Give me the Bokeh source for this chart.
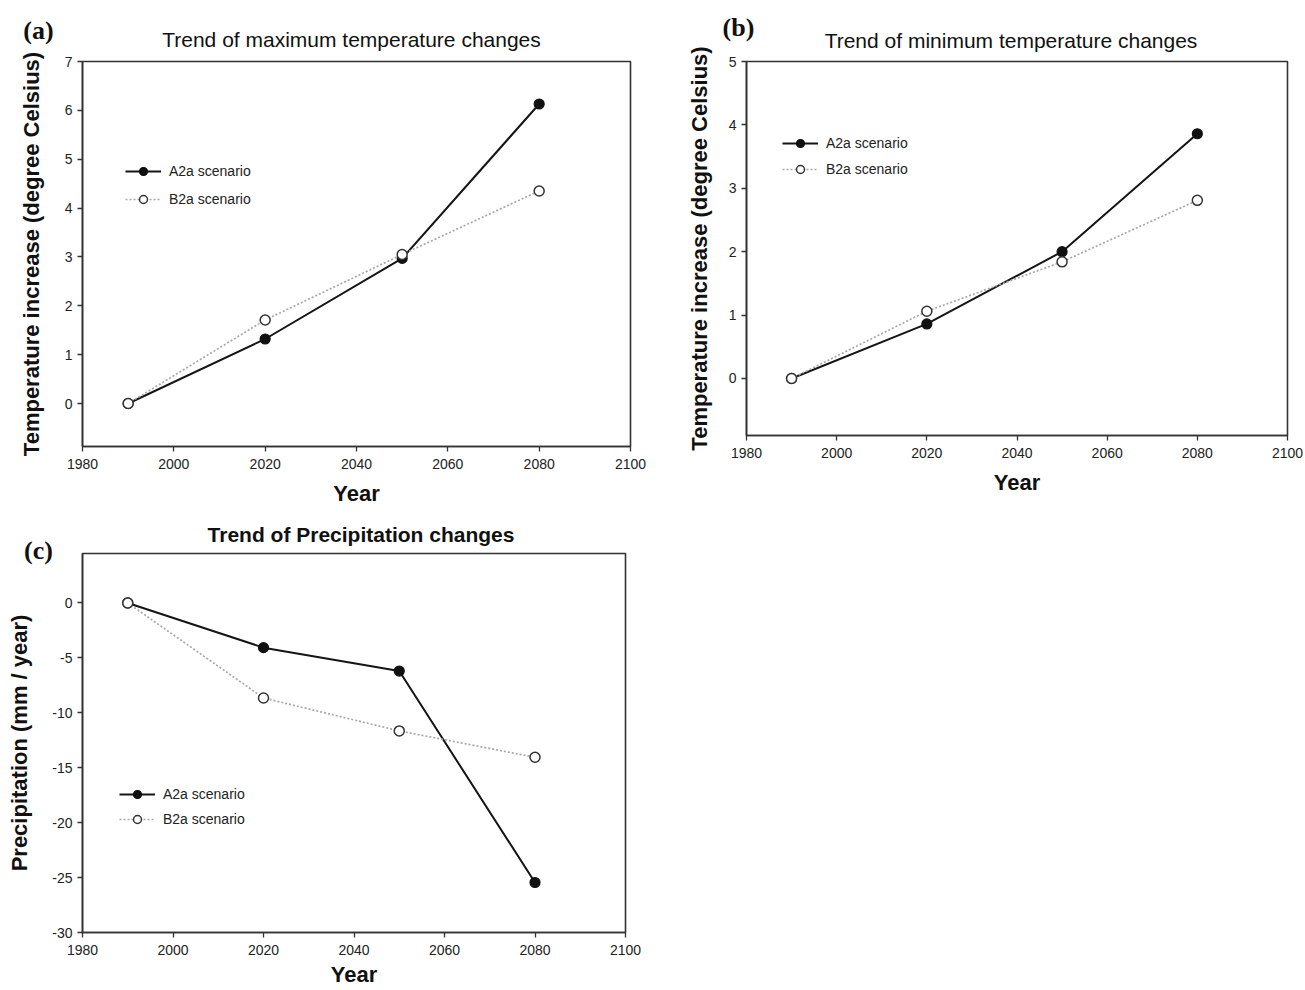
from bokeh.plotting import figure
from bokeh.layouts import column, row
from bokeh.models import (FixedTicker, Range1d, Legend, LegendItem, Label,
                          NumeralTickFormatter)
from bokeh.embed import file_html
from bokeh.resources import INLINE

# ---------------- data ----------------
years = [1990, 2020, 2050, 2080]
x_ticks = [1980, 2000, 2020, 2040, 2060, 2080, 2100]
series_names = ["A2a scenario", "B2a scenario"]

tmax_a2a = [0.0, 1.32, 2.97, 6.13]
tmax_b2a = [0.0, 1.71, 3.05, 4.35]
tmax_ticks = [0, 1, 2, 3, 4, 5, 6, 7]

tmin_a2a = [0.0, 0.86, 2.00, 3.86]
tmin_b2a = [0.0, 1.06, 1.84, 2.81]
tmin_ticks = [0, 1, 2, 3, 4, 5]

prec_a2a = [0.0, -4.07, -6.2, -25.45]
prec_b2a = [0.0, -8.65, -11.65, -14.05]
prec_ticks = [-30, -25, -20, -15, -10, -5, 0]

SANS = "Liberation Sans"
SERIF = "Liberation Serif"


def make_panel(cfg, a_vals, b_vals, y_ticks):
    p = figure(width=cfg["width"], height=cfg["height"], output_backend="svg",
               toolbar_location=None, title=None,
               x_range=Range1d(1980, 2100),
               y_range=Range1d(cfg["y0"], cfg["y1"]),
               min_border_left=cfg["bl"], min_border_right=cfg["br"],
               min_border_top=cfg["bt"], min_border_bottom=cfg["bb"])
    p.background_fill_color = "white"
    p.border_fill_color = "white"
    p.xgrid.visible = False
    p.ygrid.visible = False
    p.outline_line_color = "#333333"
    p.outline_line_width = 1.6

    p.xaxis.ticker = FixedTicker(ticks=x_ticks)
    p.yaxis.ticker = FixedTicker(ticks=y_ticks)
    p.yaxis.formatter = NumeralTickFormatter(format="0")
    p.xaxis.axis_label = "Year"
    p.yaxis.axis_label = cfg["ylabel"]
    for ax in (p.xaxis[0], p.yaxis[0]):
        ax.axis_line_color = "#333333"
        ax.axis_line_width = 1.6
        ax.major_tick_line_color = "#333333"
        ax.major_tick_line_width = 1.3
        ax.major_tick_in = 0
        ax.major_tick_out = 5
        ax.minor_tick_line_color = None
        ax.major_label_text_font = SANS
        ax.major_label_text_font_size = "14px"
        ax.major_label_text_color = "#222222"
        ax.axis_label_text_font = SANS
        ax.axis_label_text_font_size = "22px"
        ax.axis_label_text_font_style = "bold"
        ax.axis_label_text_color = "#111111"
    p.xaxis.major_label_standoff = 7
    p.xaxis.axis_label_standoff = cfg["xas"]
    p.yaxis.major_label_standoff = 5
    p.yaxis.axis_label_standoff = cfg["yas"]

    la = p.line(years, a_vals, line_color="#151515", line_width=2.0)
    sa = p.scatter(years, a_vals, marker="circle", size=10,
                   fill_color="#111111", line_color="#111111", line_width=1.2)
    lb = p.line(years, b_vals, line_color="#a8a8a8", line_width=1.7, line_dash="2 2")
    sb = p.scatter(years, b_vals, marker="circle", size=10,
                   fill_color="white", line_color="#333333", line_width=1.5)

    legend = Legend(items=[LegendItem(label=series_names[0], renderers=[la, sa]),
                           LegendItem(label=series_names[1], renderers=[lb, sb])],
                    location=cfg["leg_loc"], glyph_width=36, glyph_height=20,
                    spacing=cfg["leg_sp"], padding=0, margin=0, label_standoff=8,
                    border_line_color=None, background_fill_alpha=0,
                    label_text_font=SANS, label_text_font_size="14px",
                    label_text_color="#222222")
    p.add_layout(legend)

    # chart title (placed in the top panel so it is not clipped by the frame)
    p.add_layout(Label(x=2040, y=cfg["y1"], x_offset=cfg["tit_dx"], y_offset=cfg["tit_dy"],
                       text=cfg["title"], text_font=SANS, text_font_style=cfg["title_style"],
                       text_font_size=cfg["title_size"], text_align="center",
                       text_baseline="middle", text_color="#111111"), "above")
    # panel letter
    p.add_layout(Label(x=1980, y=cfg["y1"], x_offset=cfg["let_dx"], y_offset=cfg["let_dy"],
                       text=cfg["letter"], text_font=SERIF, text_font_style="bold",
                       text_font_size="26px", text_align="center", text_baseline="middle",
                       text_color="#111111"), cfg["let_side"])
    return p


cfg_a = dict(width=665, height=508, bl=82, br=35, bt=61, bb=62, y0=-0.88, y1=7,
             title="Trend of maximum temperature changes", title_size="21px",
             title_style="normal", tit_dx=-5, tit_dy=22,
             ylabel="Temperature increase (degree Celsius)",
             xas=9, yas=18, leg_loc=(43, 237), leg_sp=8,
             letter="(a)", let_dx=-44, let_dy=31, let_side="above")
cfg_b = dict(width=638, height=497, bl=81, br=16, bt=61, bb=62, y0=-0.9, y1=5,
             title="Trend of minimum temperature changes", title_size="21px",
             title_style="normal", tit_dx=-6, tit_dy=21,
             ylabel="Temperature increase (degree Celsius)",
             xas=9, yas=14, leg_loc=(36, 256), leg_sp=6,
             letter="(b)", let_dx=-8, let_dy=34, let_side="above")
cfg_c = dict(width=665, height=481, bl=82, br=40, bt=45, bb=56, y0=-30, y1=4.5,
             title="Trend of Precipitation changes", title_size="21px",
             title_style="bold", tit_dx=7, tit_dy=19,
             ylabel="Precipitation (mm / year)",
             xas=4, yas=17, leg_loc=(37, 103), leg_sp=5,
             letter="(c)", let_dx=-44, let_dy=3, let_side="right")

pa = make_panel(cfg_a, tmax_a2a, tmax_b2a, tmax_ticks)
pb = make_panel(cfg_b, tmin_a2a, tmin_b2a, tmin_ticks)
pc = make_panel(cfg_c, prec_a2a, prec_b2a, prec_ticks)

layout = column(row(pa, pb), pc)

with open("out.html", "w") as f:
    f.write(file_html(layout, INLINE))
